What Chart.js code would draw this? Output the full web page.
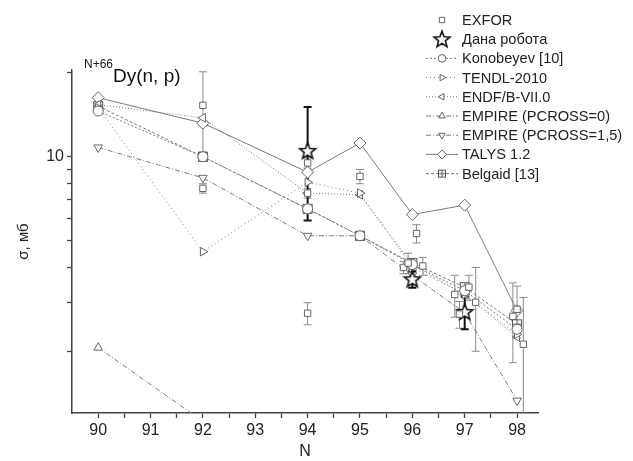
<!DOCTYPE html>
<html>
<head>
<meta charset="utf-8">
<script src="https://cdn.jsdelivr.net/npm/chart.js@4"></script>
<style>
html, body { margin: 0; padding: 0; background: #fff; }
</style>
</head>
<body>
<canvas id="myChart" width="633" height="461"></canvas>
<script>
// neutron number N of the target, model curves (mb)
const isotopeN = [90, 92, 94, 95, 96, 97, 98];
const konobeyev = [14.6, 10.0, 6.5, 5.2, 4.1, 3.3, 2.4];
const tendl2010 = [15.0, 4.56, 8.1, 7.4, 4.0, 3.2, 2.3];
const endfB7 = [15.4, 13.8, 7.4, 7.3, 4.1, 3.2, 2.25];
const empire0 = [2.06, 1.12, null, null, null, null, null];
const empire15 = [10.8, 8.4, 5.2, 5.2, 3.75, 2.75, 1.33];
const talys12 = [16.3, 13.2, 8.8, 11.2, 6.2, 6.7, 2.8];
const belgaid = [15.2, 10.0, 6.5, 5.2, 4.15, 3.4, 2.5];

// experimental points
const exforN = [92, 92, 94, 94, 94, 95, 96.08, 95.83, 95.92, 96.2, 96.81, 96.9, 97.08, 97.21, 97.92, 98.0, 98.12];
const exforSigma = [15.3, 7.7, 9.5, 7.4, 2.74, 8.5, 5.3, 4.0, 4.15, 4.05, 3.2, 2.72, 3.4, 3.0, 2.67, 2.83, 2.12];
const exforErr = [4.9, 0.3, 0.4, 0.3, 0.25, 0.5, 0.4, 0.2, 0.35, 0.3, 0.55, 0.3, 0.35, 1.0, 0.85, 0.6, 1.0];

const thisWorkN = [94, 96, 97];
const thisWorkSigma = [10.5, 3.63, 2.77];
const thisWorkErr = [4.6, 0.25, 0.37];

const xTicks = [90, 90.5, 91, 91.5, 92, 92.5, 93, 93.5, 94, 94.5, 95, 95.5, 96, 96.5, 97, 97.5, 98];
const yTicks = [2, 3, 4, 5, 6, 7, 8, 9, 10, 20];

const FONT = "'Liberation Sans', Arial, sans-serif";
const GREY = "#7a7a7a";

function pts(xs, ys) {
	return xs.map((x, i) => ({ x: x, y: ys[i] }));
}

// open five-pointed star
function makeStar() {
	const c = document.createElement("canvas");
	c.width = 20; c.height = 20;
	const g = c.getContext("2d");
	g.beginPath();
	for (let i = 0; i < 10; i++) {
		const r = i % 2 === 0 ? 8.5 : 3.6;
		const a = -Math.PI / 2 + i * Math.PI / 5;
		const px = 10 + r * Math.cos(a), py = 10.5 + r * Math.sin(a);
		if (i === 0) g.moveTo(px, py); else g.lineTo(px, py);
	}
	g.closePath();
	g.fillStyle = "#fff";
	g.fill();
	g.lineWidth = 1.6;
	g.strokeStyle = "#111";
	g.stroke();
	return c;
}

// square with a plus inside
function makeBoxPlus(s) {
	const c = document.createElement("canvas");
	c.width = s + 2; c.height = s + 2;
	const g = c.getContext("2d");
	g.fillStyle = "#fff";
	g.fillRect(1, 1, s, s);
	g.strokeStyle = "#555";
	g.lineWidth = 1;
	g.strokeRect(1.5, 1.5, s - 1, s - 1);
	g.beginPath();
	g.moveTo(1 + s / 2, 1.5); g.lineTo(1 + s / 2, s + 0.5);
	g.moveTo(1.5, 1 + s / 2); g.lineTo(s + 0.5, 1 + s / 2);
	g.stroke();
	return c;
}

const starImg = makeStar();
const boxPlus = makeBoxPlus(10);
const boxPlusSmall = makeBoxPlus(8);

function lineSet(label, ys, style, rot, dash, extra) {
	return Object.assign({
		label: label,
		data: pts(isotopeN, ys),
		showLine: true,
		borderColor: GREY,
		borderWidth: 1,
		borderDash: dash,
		pointStyle: style,
		rotation: rot,
		pointRadius: 5,
		pointBorderColor: "#666",
		pointBackgroundColor: "#fff",
		pointBorderWidth: 1,
		spanGaps: false
	}, extra || {});
}

const datasets = [
	{
		label: "EXFOR",
		data: pts(exforN, exforSigma),
		errs: exforErr,
		errColor: "#8a8a8a",
		errWidth: 1,
		showLine: false,
		pointStyle: "rect",
		pointRadius: 4.5,
		pointBorderColor: "#666",
		pointBackgroundColor: "#fff",
		pointBorderWidth: 1
	},
	{
		label: "Дана робота",
		data: pts(thisWorkN, thisWorkSigma),
		errs: thisWorkErr,
		errColor: "#111",
		errWidth: 2,
		showLine: false,
		pointStyle: starImg,
		pointRadius: 9,
		legendStyle: starImg
	},
	lineSet("Konobeyev [10]", konobeyev, "circle", 0, [2, 2]),
	lineSet("TENDL-2010", tendl2010, "triangle", 90, [1, 3]),
	lineSet("ENDF/B-VII.0", endfB7, "triangle", -90, [1, 2]),
	lineSet("EMPIRE (PCROSS=0)", empire0, "triangle", 0, [5, 2, 1, 2]),
	lineSet("EMPIRE (PCROSS=1,5)", empire15, "triangle", 180, [5, 2, 1, 2]),
	lineSet("TALYS 1.2", talys12, "rectRot", 0, [], { pointRadius: 6 }),
	lineSet("Belgaid [13]", belgaid, boxPlus, 0, [3, 2], { legendStyle: boxPlusSmall })
];

// error bars, drawn under the markers
const errorBars = {
	id: "errorBars",
	beforeDatasetsDraw(chart) {
		const ctx = chart.ctx, ys = chart.scales.y, area = chart.chartArea;
		ctx.save();
		ctx.beginPath();
		ctx.rect(area.left, area.top, area.right - area.left, area.bottom - area.top);
		ctx.clip();
		chart.data.datasets.forEach((ds, i) => {
			if (!ds.errs) return;
			const meta = chart.getDatasetMeta(i);
			ctx.strokeStyle = ds.errColor;
			ctx.lineWidth = ds.errWidth;
			meta.data.forEach((el, j) => {
				const v = ds.data[j].y, e = ds.errs[j];
				const top = ys.getPixelForValue(v + e);
				const bot = ys.getPixelForValue(Math.max(v - e, 0.5));
				ctx.beginPath();
				ctx.moveTo(el.x, top); ctx.lineTo(el.x, bot);
				ctx.moveTo(el.x - 4, top); ctx.lineTo(el.x + 4, top);
				ctx.moveTo(el.x - 4, bot); ctx.lineTo(el.x + 4, bot);
				ctx.stroke();
			});
		});
		ctx.restore();
	}
};

// legend box and reaction title
const chartDecor = {
	id: "chartDecor",
	afterDraw(chart) {
		const ctx = chart.ctx;
		ctx.save();
		// title
		ctx.fillStyle = "#111";
		ctx.textBaseline = "alphabetic";
		ctx.font = "12px " + FONT;
		ctx.fillText("N+66", 84, 68);
		ctx.font = "19px " + FONT;
		ctx.fillText("Dy(n, p)", 113, 82);

		// legend
		const mx = 442, tx = 462;
		chart.data.datasets.forEach((ds, i) => {
			const y = 20 + i * 19.2;
			if (ds.showLine) {
				ctx.strokeStyle = GREY;
				ctx.lineWidth = 1;
				ctx.setLineDash(ds.borderDash || []);
				ctx.beginPath();
				ctx.moveTo(426, y); ctx.lineTo(458, y);
				ctx.stroke();
				ctx.setLineDash([]);
			}
			ctx.strokeStyle = ds.pointBorderColor || "#666";
			ctx.fillStyle = "#fff";
			ctx.lineWidth = 1;
			Chart.helpers.drawPoint(ctx, {
				pointStyle: ds.legendStyle || ds.pointStyle,
				rotation: ds.rotation || 0,
				radius: ds.pointStyle === "rectRot" ? 4.5 : 3.8,
				borderWidth: 1
			}, mx, y);
			ctx.fillStyle = "#222";
			ctx.font = "14.6px " + FONT;
			ctx.textBaseline = "middle";
			ctx.fillText(ds.label, tx, y + 1);
		});
		ctx.restore();
	}
};

var ctx = document.getElementById("myChart");
var chart = new Chart(ctx, {
	type: "scatter",
	data: { datasets: datasets },
	plugins: [errorBars, chartDecor],
	options: {
		responsive: false,
		animation: false,
		layout: { padding: { left: 0, right: 95, top: 70, bottom: 0 } },
		plugins: { legend: { display: false }, tooltip: { enabled: false } },
		scales: {
			x: {
				type: "linear",
				min: 89.5,
				max: 98.4,
				afterBuildTicks: s => { s.ticks = xTicks.map(v => ({ value: v })); },
				afterFit: s => { s.height = 48; },
				ticks: {
					autoSkip: false,
					maxRotation: 0,
					padding: 3,
					color: "#222",
					font: { family: FONT, size: 16 },
					callback: v => Number.isInteger(v) ? String(v) : ""
				},
				grid: { drawOnChartArea: false, tickLength: 5, color: "#444", tickWidth: 1.3 },
				border: { color: "#444", width: 1.5 },
				title: { display: true, text: "N", color: "#222", font: { family: FONT, size: 16 }, padding: { top: 0, bottom: 0 } }
			},
			y: {
				type: "logarithmic",
				min: 1.2,
				max: 20.5,
				afterBuildTicks: s => { s.ticks = yTicks.map(v => ({ value: v })); },
				afterFit: s => { s.width = 72; },
				ticks: {
					autoSkip: false,
					padding: 3,
					color: "#222",
					font: { family: FONT, size: 16 },
					callback: v => v === 10 ? "10" : ""
				},
				grid: { drawOnChartArea: false, tickLength: 5, color: "#444", tickWidth: 1.3 },
				border: { color: "#444", width: 1.5 },
				title: { display: true, text: "σ, мб", color: "#222", font: { family: FONT, size: 15 }, padding: { top: 15, bottom: 0 } }
			}
		}
	}
});
</script>
</body>
</html>
